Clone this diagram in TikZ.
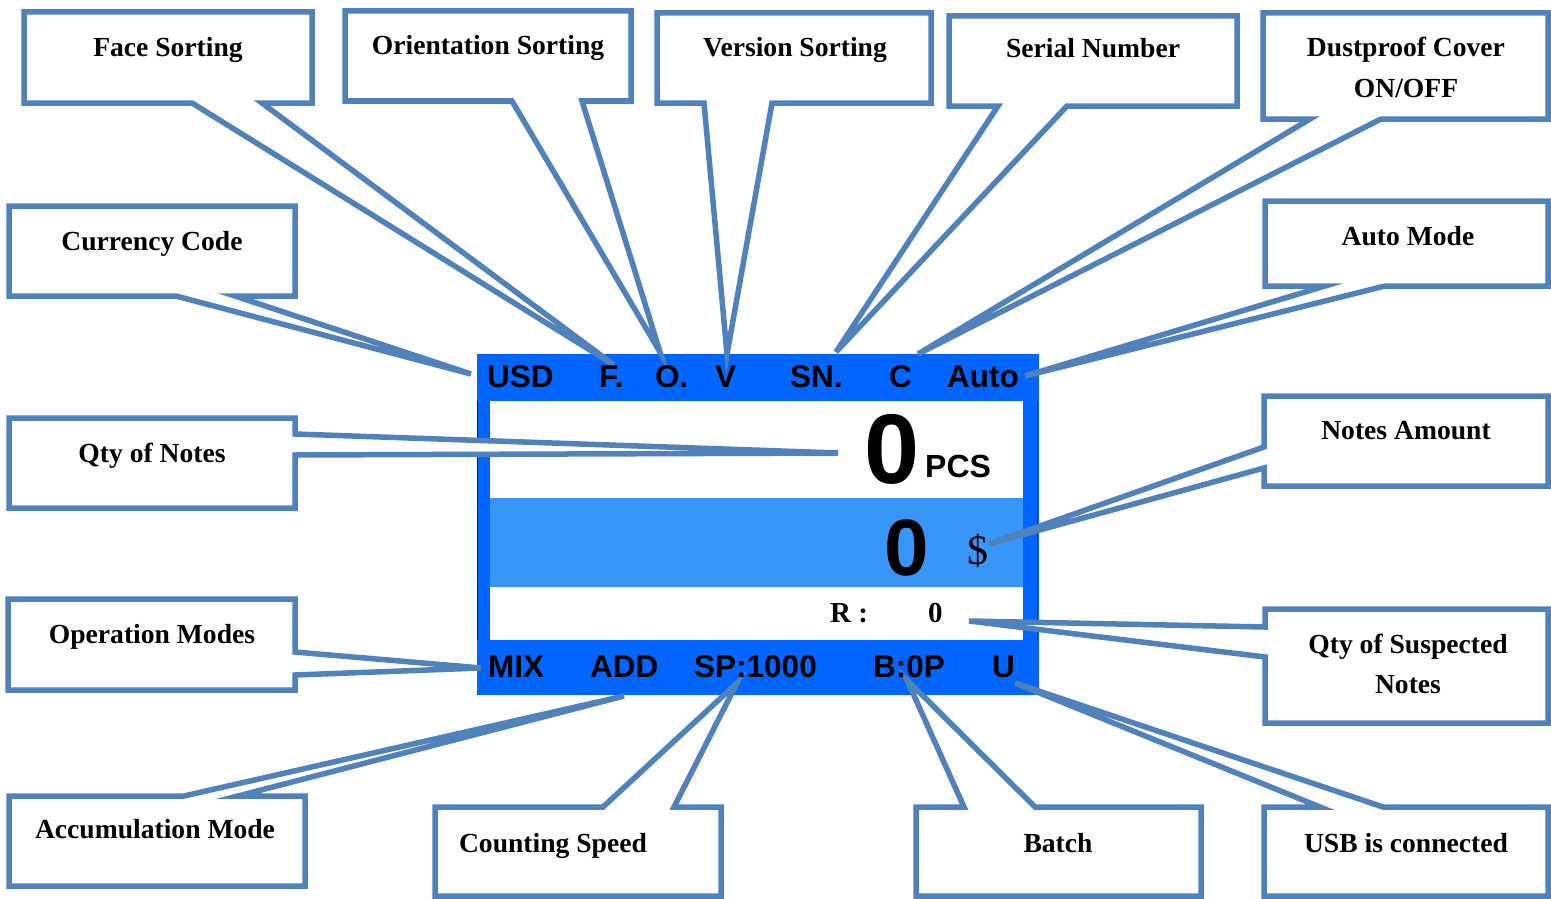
\documentclass[tikz,border=0pt]{standalone}
\usepackage{fontspec}
\setmainfont{Liberation Serif}
\newfontfamily\arialf{Liberation Sans}
\definecolor{cb}{RGB}{79,129,189}
\definecolor{lcdblue}{RGB}{0,102,255}
\definecolor{lcdband}{RGB}{56,150,250}
\definecolor{lcddark}{RGB}{20,30,60}
\tikzset{
  callout/.style={draw=cb, fill=white, line width=5.5pt, line join=miter},
  lab/.style={font=\fontsize{27.6}{41}\selectfont\bfseries, anchor=base, inner sep=0pt, align=center},
  lcdtxt/.style={font=\arialf\bfseries\fontsize{31.5}{32}\selectfont, anchor=base west, inner sep=0pt},
}
\begin{document}
\begin{tikzpicture}[x=1pt,y=-1pt]
\useasboundingbox (0,0) rectangle (1551,899);
\fill[white] (0,0) rectangle (1551,899);
% LCD
\fill[lcdblue] (477,354) rectangle (1039,695);
\fill[white] (490,401) rectangle (1023,640);
\fill[lcdband] (490,498) rectangle (1023,587);
\draw[lcddark, line width=1pt] (477.5,401) -- (477.5,640);
\draw[lcddark, line width=1pt] (1037.5,401) -- (1037.5,640);
% tips
\coordinate (tF) at (614,365);
\coordinate (tO) at (660,352);
\coordinate (tV) at (727,354);
\coordinate (tSN) at (836,352);
\coordinate (tC) at (918,354);
\coordinate (tA) at (1025,376);
\coordinate (tU) at (471,374);
\coordinate (tQ) at (838,453);
\coordinate (tD) at (989,544);
\coordinate (tM) at (481,668);
\coordinate (tAdd) at (624,696);
\coordinate (tSP) at (737,683);
\coordinate (tB) at (907,680);
\coordinate (tUSB) at (1015,683);
\coordinate (tR) at (969,621);
% callouts
\draw[callout] (24,12) -- (312,12) -- (312,103) -- (262,103) -- (tF) -- (192,103) -- (24,103) -- cycle;
\draw[callout] (345,11) -- (631,11) -- (631,101) -- (582,101) -- (tO) -- (512,101) -- (345,101) -- cycle;
\draw[callout] (657,13) -- (931,13) -- (931,103) -- (772,103) -- (tV) -- (704,103) -- (657,103) -- cycle;
\draw[callout] (949,16) -- (1237,16) -- (1237,106) -- (1067,106) -- (tSN) -- (998,106) -- (949,106) -- cycle;
\draw[callout] (1263,13) -- (1548,13) -- (1548,119) -- (1381,119) -- (tC) -- (1310,119) -- (1263,119) -- cycle;
\draw[callout] (1265,201) -- (1548,201) -- (1548,286) -- (1385,286) -- (tA) -- (1325,286) -- (1265,286) -- cycle;
\draw[callout] (9,206) -- (295,206) -- (295,296) -- (235,296) -- (tU) -- (176,296) -- (9,296) -- cycle;
\draw[callout] (9,418) -- (295,418) -- (295,434) -- (tQ) -- (295,455) -- (295,508) -- (9,508) -- cycle;
\draw[callout] (1264,396) -- (1548,396) -- (1548,486) -- (1264,486) -- (1264,468) -- (tD) -- (1264,447) -- cycle;
\draw[callout] (8,599) -- (295,599) -- (295,652) -- (tM) -- (295,675) -- (295,690) -- (8,690) -- cycle;
\draw[callout] (9,796) -- (184,796) -- (tAdd) -- (238,796) -- (305,796) -- (305,886) -- (9,886) -- cycle;
\draw[callout] (435,807) -- (603,807) -- (tSP) -- (674,807) -- (721,807) -- (721,896) -- (435,896) -- cycle;
\draw[callout] (916,807) -- (964,807) -- (tB) -- (1035,807) -- (1201,807) -- (1201,896) -- (916,896) -- cycle;
\draw[callout] (1264,807) -- (1320,807) -- (tUSB) -- (1383,807) -- (1548,807) -- (1548,896) -- (1264,896) -- cycle;
\draw[callout] (1265,609) -- (1548,609) -- (1548,723) -- (1265,723) -- (1265,657) -- (tR) -- (1265,627) -- cycle;
% callout labels
\node[lab] (lFace) at (168,57) {Face Sorting};
\node[lab] (lOrient) at (488,55) {Orientation Sorting};
\node[lab] (lVer) at (795,57) {Version Sorting};
\node[lab] (lSer) at (1093,58) {Serial Number};
\node[lab] (lDust1) at (1406,57) {Dustproof Cover};
\node[lab] (lDust2) at (1406,98) {ON/OFF};
\node[lab] (lAuto) at (1408,245) {Auto Mode};
\node[lab] (lCur) at (152,250) {Currency Code};
\node[lab] (lQty) at (152,462) {Qty of Notes};
\node[lab] (lAmt) at (1406,439) {Notes Amount};
\node[lab] (lOp) at (152,643) {Operation Modes};
\node[lab] (lAcc) at (155,838) {Accumulation Mode};
\node[lab] (lSpd) at (553,852) {Counting Speed};
\node[lab] (lBat) at (1058,852) {Batch};
\node[lab] (lUSB) at (1406,852) {USB is connected};
\node[lab] (lSus1) at (1408,653) {Qty of Suspected};
\node[lab] (lSus2) at (1408,693) {Notes};
% LCD texts
\node[lcdtxt] (dUSD) at (487,387) {USD};
\node[lcdtxt] (dF) at (599,387) {F.};
\node[lcdtxt] (dO) at (655,387) {O.};
\node[lcdtxt] (dV) at (715,387) {V};
\node[lcdtxt] (dSN) at (790,387) {SN.};
\node[lcdtxt] (dC) at (889,387) {C};
\node[lcdtxt] (dAuto) at (947,387) {Auto};
\node[lcdtxt] (dMIX) at (488,677) {MIX};
\node[lcdtxt] (dADD) at (590,677) {ADD};
\node[lcdtxt] (dSP) at (694,677) {SP:1000};
\node[lcdtxt] (dB) at (873,677) {B:0P};
\node[lcdtxt] (dU) at (992,677) {U};
\node[anchor=base west, inner sep=0pt, font=\arialf\bfseries\fontsize{99}{100}\selectfont] (dZero1) at (864,483) {0};
\node[anchor=base west, inner sep=0pt, font=\arialf\bfseries\fontsize{32}{34}\selectfont] (dPCS) at (925,477) {PCS};
\node[anchor=base west, inner sep=0pt, font=\arialf\bfseries\fontsize{80}{82}\selectfont] (dZero2) at (884,575) {0};
\node[anchor=center, inner sep=0pt, font=\fontsize{42}{44}\selectfont] (dDollar) at (978,551) {\$};
\node[anchor=base west, inner sep=0pt, font=\bfseries\fontsize{29}{30}\selectfont] (dR) at (830,622) {R :};
\node[anchor=base west, inner sep=0pt, font=\bfseries\fontsize{29}{30}\selectfont] (dR0) at (928,622) {0};
\end{tikzpicture}
\end{document}
